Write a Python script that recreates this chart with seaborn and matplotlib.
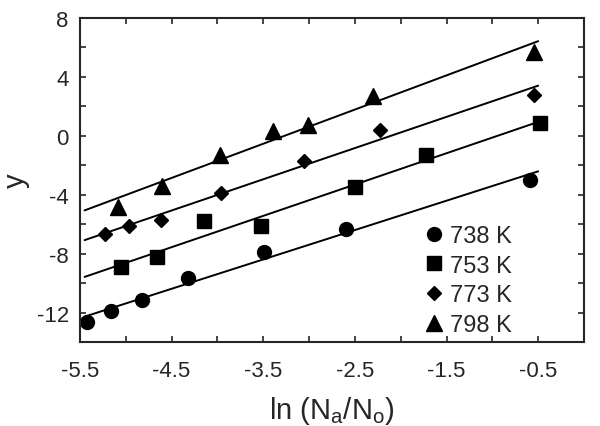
import matplotlib
matplotlib.use("Agg")
import matplotlib.pyplot as plt
import numpy as np
import seaborn as sns
from matplotlib.ticker import MultipleLocator, FixedLocator

# values
labels = ["738 K", "753 K", "773 K", "798 K"]
markers = ["o", "s", "D", "^"]
marker_sizes = [10, 9.5, 7, 11.5]

x_738 = [-5.42, -5.16, -4.82, -4.32, -3.49, -2.60, -0.59]
y_738 = [-12.62, -11.91, -11.12, -9.65, -7.91, -6.32, -3.0]

x_753 = [-5.05, -4.66, -4.15, -3.53, -2.50, -1.72, -0.48]
y_753 = [-8.92, -8.2, -5.76, -6.1, -3.49, -1.3, 0.85]

x_773 = [-5.23, -4.97, -4.62, -3.96, -3.06, -2.23, -0.55]
y_773 = [-6.66, -6.14, -5.69, -3.88, -1.73, 0.42, 2.77]

x_798 = [-5.08, -4.60, -3.97, -3.39, -3.01, -2.30, -0.55]
y_798 = [-4.81, -3.43, -1.28, 0.31, 0.76, 2.73, 5.67]

fit_range = [-5.45, -0.5]

xs = [x_738, x_753, x_773, x_798]
ys = [y_738, y_753, y_773, y_798]

sns.set_style("ticks")
plt.rcParams["font.family"] = ["Liberation Sans", "DejaVu Sans"]
plt.rcParams["axes.unicode_minus"] = False

fig = plt.figure(figsize=(6, 4.27), dpi=100)
ax = fig.add_axes([0.1333, 0.1967, 0.84, 0.7588])

handles = []
for x, y, lab, m, ms in zip(xs, ys, labels, markers, marker_sizes):
    # least squares line through each temperature
    k, b = np.polyfit(x, y, 1)
    xl = np.array(fit_range)
    sns.lineplot(x=xl, y=k * xl + b, color="black", lw=1.4, ax=ax)
    h, = ax.plot(x, y, linestyle="none", marker=m, markersize=ms,
                 color="black", label=lab)
    handles.append(h)

ax.set_xlim(-5.5, 0)
ax.set_ylim(-14, 8)
ax.xaxis.set_major_locator(FixedLocator([-5.5, -4.5, -3.5, -2.5, -1.5, -0.5]))
ax.xaxis.set_minor_locator(MultipleLocator(0.5))
ax.yaxis.set_major_locator(MultipleLocator(4))
ax.yaxis.set_minor_locator(MultipleLocator(2))
ax.tick_params(which="both", direction="in", top=True, right=True,
               length=4, width=1.2, labelsize=16)
ax.tick_params(axis="x", which="major", pad=13)
ax.tick_params(axis="y", which="major", pad=8)
for s in ax.spines.values():
    s.set_linewidth(1.5)

ax.set_xlabel("ln (N$_\\mathregular{a}$/N$_\\mathregular{o}$)", fontsize=21, labelpad=9)
ax.set_ylabel("y", fontsize=21)
ax.yaxis.set_label_coords(-0.1, 0.5)

ax.legend(handles=handles, loc="lower right", frameon=False, fontsize=17,
          handlelength=0.6, handletextpad=0.35, labelspacing=0.32,
          borderaxespad=0.0, bbox_to_anchor=(0.875, -0.01))

fig.savefig("out.png", dpi=100)
